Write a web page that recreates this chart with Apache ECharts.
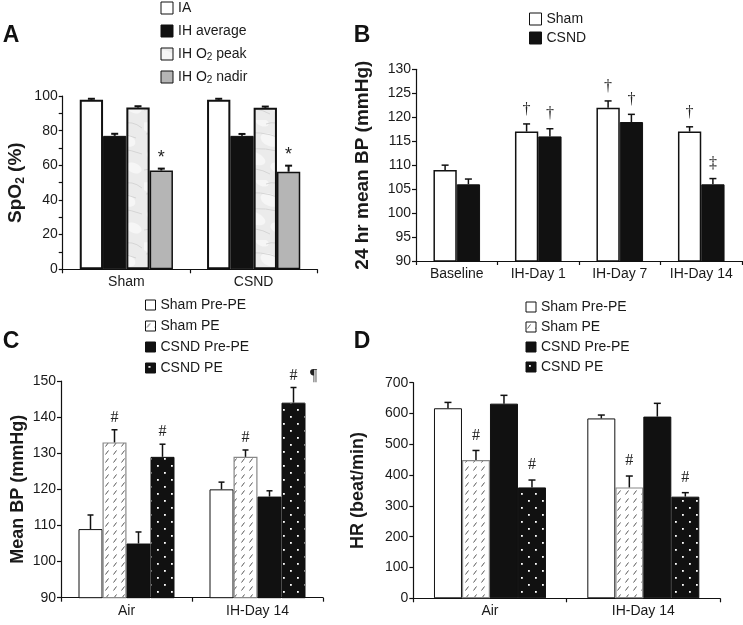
<!DOCTYPE html>
<html><head><meta charset="utf-8">
<script src="https://cdn.jsdelivr.net/npm/echarts@6/dist/echarts.min.js"></script>
<style>html,body{margin:0;padding:0;background:#fff}#c{width:743px;height:625px}</style>
</head><body><div id="c"></div>
<script>
// ---------- DATA ----------
// Panel A
const catsA = ['Sham', 'CSND'];
const namesA = ['IA', 'IH average', 'IH O2 peak', 'IH O2 nadir'];
const aIA = [97.8, 97.8];      const aIAErr = [0.6, 0.6];
const aAvg = [77, 77];         const aAvgErr = [1.2, 1.1];
const aPeak = [93.4, 93.2];    const aPeakErr = [0.7, 0.7];
const aNadir = [57, 56.3];     const aNadirErr = [1.1, 3.5];
const aMarks = [['', ''], ['', ''], ['', ''], ['*', '*']];
const ticksA = [0, 20, 40, 60, 80, 100];

// Panel B
const catsB = ['Baseline', 'IH-Day 1', 'IH-Day 7', 'IH-Day 14'];
const namesB = ['Sham', 'CSND'];
const bSham = [109, 117, 122, 117];   const bShamErr = [1, 1.6, 1.4, 1];
const bCsnd = [106, 116, 119, 106];   const bCsndErr = [1.1, 1.6, 1.6, 1.2];
const bMarks = [['', '†', '†', '†'], ['', '†', '†', '‡']];
const ticksB = [90, 95, 100, 105, 110, 115, 120, 125, 130];

// Panel C
const catsC = ['Air', 'IH-Day 14'];
const namesCD = ['Sham Pre-PE', 'Sham PE', 'CSND Pre-PE', 'CSND PE'];
const cShamPre = [109, 120];  const cShamPreErr = [3.9, 2];
const cShamPE = [133, 129];   const cShamPEErr = [3.5, 1.9];
const cCsndPre = [105, 118];  const cCsndPreErr = [3.2, 1.6];
const cCsndPE = [129, 144];   const cCsndPEErr = [3.5, 4.2];
const cMarks = [['', ''], ['#', '#'], ['', ''], ['#', '# ¶']];
const ticksC = [90, 100, 110, 120, 130, 140, 150];

// Panel D
const catsD = ['Air', 'IH-Day 14'];
const dShamPre = [617, 584];  const dShamPreErr = [19, 11];
const dShamPE = [449, 360];   const dShamPEErr = [31, 37];
const dCsndPre = [632, 590];  const dCsndPreErr = [27, 43];
const dCsndPE = [360, 330];   const dCsndPEErr = [24, 13];
const dMarks = [['', ''], ['#', '#'], ['', ''], ['#', '#']];
const ticksD = [0, 100, 200, 300, 400, 500, 600, 700];

// ---------- PATTERNS ----------
function mk(w, h, draw) { const c = document.createElement('canvas'); c.width = w; c.height = h; draw(c.getContext('2d')); return c; }
const slashPat = { image: mk(8, 8, g => {
  g.fillStyle = '#fff'; g.fillRect(0, 0, 8, 8);
  g.strokeStyle = '#444'; g.lineWidth = 0.9;
  g.beginPath(); g.moveTo(1.5, 6.5); g.lineTo(4.5, 2.5); g.stroke();
}), repeat: 'repeat' };
const dotPat = { image: mk(14, 14, g => {
  g.fillStyle = '#111'; g.fillRect(0, 0, 14, 14);
  g.fillStyle = '#fff'; g.fillRect(3, 3, 1.8, 1.8); g.fillRect(10, 10, 1.8, 1.8);
}), repeat: 'repeat' };
const marblePat = { image: mk(48, 60, g => {
  g.fillStyle = '#ebebeb'; g.fillRect(0, 0, 48, 60);
  g.fillStyle = '#f6f6f6';
  [[6,8,9,5],[30,20,10,6],[14,38,12,6],[38,48,8,5],[22,2,7,4]].forEach(e => { g.beginPath(); g.ellipse(e[0], e[1], e[2], e[3], 0.4, 0, Math.PI*2); g.fill(); });
  g.strokeStyle = '#cfcfcf'; g.lineWidth = 0.8;
  [[2,14,20,10,40,18],[8,30,24,26,46,34],[0,50,16,46,30,54],[26,4,36,0,46,8]].forEach(s => { g.beginPath(); g.moveTo(s[0], s[1]); g.quadraticCurveTo(s[2], s[3], s[4], s[5]); g.stroke(); });
}), repeat: 'repeat' };

// ---------- HELPERS ----------
const FONT = 'Liberation Sans, Arial, sans-serif';
const SERIF = 'Liberation Serif, Times New Roman, serif';
const TXT = '#1a1a1a';

function xAx(gi, cats) {
  return { type: 'category', gridIndex: gi, data: cats,
    axisLine: { lineStyle: { color: '#111', width: 1.2 } },
    axisTick: { show: true, length: 4, lineStyle: { color: '#111', width: 1.2 } },
    axisLabel: { fontSize: 14, color: TXT, fontFamily: FONT, margin: 6, interval: 0 },
    splitLine: { show: false } };
}
function yAx(gi, ticks, name, gap, minor, fs) {
  return { type: 'value', gridIndex: gi, min: ticks[0], max: ticks[ticks.length - 1], interval: ticks[1] - ticks[0],
    name: name, nameLocation: 'middle', nameGap: gap, nameRotate: 90,
    nameTextStyle: { fontSize: fs, fontWeight: 'bold', color: TXT, fontFamily: FONT, lineHeight: 22,
      rich: { sub: { fontSize: 12, fontWeight: 'bold', color: TXT, fontFamily: FONT, verticalAlign: 'bottom', lineHeight: 12 } } },
    axisLine: { show: true, lineStyle: { color: '#111', width: 1.2 } },
    axisTick: { show: true, length: 4, lineStyle: { color: '#111', width: 1.2 } },
    minorTick: { show: !!minor, splitNumber: 2, length: 4, lineStyle: { color: '#111', width: 1.2 } },
    axisLabel: { fontSize: 14, color: TXT, fontFamily: FONT, margin: 5 },
    splitLine: { show: false } };
}
function bar(gi, name, data, style, bw) {
  return { type: 'bar', name: name, xAxisIndex: gi, yAxisIndex: gi, data: data,
    barWidth: bw, barGap: '0%', itemStyle: style, z: 2 };
}
function errSeries(gi, vals, errs, bw, lw, cap) {
  const n = vals.length, data = [];
  vals.forEach((arr, k) => arr.forEach((v, j) => data.push([j, v, errs[k][j], k])));
  return { type: 'custom', name: 'err' + gi, xAxisIndex: gi, yAxisIndex: gi, data: data, z: 5, silent: true,
    renderItem: (p, api) => {
      const j = api.value(0), v = api.value(1), e = api.value(2), k = api.value(3);
      const a = api.coord([j, v]), b = api.coord([j, v + e]);
      const x = a[0] + (k - (n - 1) / 2) * bw;
      const st = { stroke: '#111', lineWidth: lw };
      return { type: 'group', children: [
        { type: 'line', shape: { x1: x, y1: a[1], x2: x, y2: b[1] }, style: st },
        { type: 'line', shape: { x1: x - cap, y1: b[1], x2: x + cap, y2: b[1] }, style: st } ] };
    } };
}
function markSeries(gi, vals, errs, marks, bw, off, font) {
  const n = vals.length, data = [], txt = [];
  vals.forEach((arr, k) => arr.forEach((v, j) => { if (marks[k][j]) { data.push([j, v + errs[k][j], k]); txt.push(marks[k][j]); } }));
  return { type: 'custom', name: 'mark' + gi, xAxisIndex: gi, yAxisIndex: gi, data: data, z: 6, silent: true,
    renderItem: (p, api) => {
      const j = api.value(0), t = api.value(1), k = api.value(2);
      const c = api.coord([j, t]);
      const x = c[0] + (k - (n - 1) / 2) * bw, y = c[1] - off;
      const parts = txt[p.dataIndex].split(' ');
      return { type: 'group', children: parts.map((s, i) => ({ type: 'text', x: x + i * 20, y: y,
        style: { text: s, font: font, fill: '#222', align: 'center', verticalAlign: 'middle' } })) };
    } };
}
function legend(names, left, top, size, gap, textGap) {
  return { data: names, orient: 'vertical', left: left, top: top, padding: 0, itemWidth: size, itemHeight: size, itemGap: gap,
    itemTextGap: textGap, icon: 'rect',
    itemStyle: { borderColor: '#111', borderWidth: 1 },
    formatter: n => n.replace('O2', 'O{sub|2}'),
    textStyle: { fontSize: 14, color: TXT, fontFamily: FONT, lineHeight: 16,
      rich: { sub: { fontSize: 10, color: TXT, fontFamily: FONT, verticalAlign: 'bottom', lineHeight: 10 } } } };
}

const whiteBox = w => ({ color: '#fff', borderColor: '#111', borderWidth: w });
const blk = { color: '#111', borderColor: '#111', borderWidth: 1 };

const bwA = 23.3, bwB = 23.3, bwC = 24, bwD = 28;

const option = {
  animation: false,
  backgroundColor: '#fff',
  textStyle: { fontFamily: FONT },
  graphic: [
    { type: 'text', x: 11, y: 36, style: { text: 'A', font: 'bold 23px ' + FONT, fill: '#111', align: 'center', verticalAlign: 'middle' } },
    { type: 'text', x: 362, y: 36, style: { text: 'B', font: 'bold 23px ' + FONT, fill: '#111', align: 'center', verticalAlign: 'middle' } },
    { type: 'text', x: 11, y: 342, style: { text: 'C', font: 'bold 23px ' + FONT, fill: '#111', align: 'center', verticalAlign: 'middle' } },
    { type: 'text', x: 362, y: 342, style: { text: 'D', font: 'bold 23px ' + FONT, fill: '#111', align: 'center', verticalAlign: 'middle' } }
  ],
  legend: [
    legend(namesA, 160.5, 0, 12, 7, 5),
    legend(namesB, 529, 11, 12, 3, 4),
    legend(namesCD, 145, 297, 10, 5, 7),
    legend(namesCD, 525.5, 299, 10, 4, 7)
  ],
  grid: [
    { left: 62.7, top: 96, width: 254.6, height: 173.3 },
    { left: 416, top: 69.3, width: 326, height: 191.7 },
    { left: 61, top: 381, width: 262, height: 216.7 },
    { left: 413.3, top: 382.7, width: 306.7, height: 215.6 }
  ],
  xAxis: [xAx(0, catsA), xAx(1, catsB), xAx(2, catsC), xAx(3, catsD)],
  yAxis: [
    yAx(0, ticksA, 'SpO{sub|2} (%)', 36, true, 19),
    yAx(1, ticksB, '24 hr mean BP (mmHg)', 42, false, 19),
    yAx(2, ticksC, 'Mean BP (mmHg)', 26, false, 18),
    yAx(3, ticksD, 'HR (beat/min)', 44, false, 18)
  ],
  series: [
    bar(0, namesA[0], aIA, whiteBox(2), bwA),
    bar(0, namesA[1], aAvg, blk, bwA),
    bar(0, namesA[2], aPeak, { color: marblePat, borderColor: '#111', borderWidth: 2 }, bwA),
    bar(0, namesA[3], aNadir, { color: '#b5b5b5', borderColor: '#111', borderWidth: 1.5 }, bwA),
    errSeries(0, [aIA, aAvg, aPeak, aNadir], [aIAErr, aAvgErr, aPeakErr, aNadirErr], bwA, 2, 3.5),
    markSeries(0, [aIA, aAvg, aPeak, aNadir], [aIAErr, aAvgErr, aPeakErr, aNadirErr], aMarks, bwA, 11, '18px ' + FONT),

    bar(1, namesB[0], bSham, whiteBox(1.5), bwB),
    bar(1, namesB[1], bCsnd, blk, bwB),
    errSeries(1, [bSham, bCsnd], [bShamErr, bCsndErr], bwB, 1.5, 3.5),
    markSeries(1, [bSham, bCsnd], [bShamErr, bCsndErr], bMarks, bwB, 14.5, '16px ' + SERIF),

    bar(2, namesCD[0], cShamPre, whiteBox(1), bwC),
    bar(2, namesCD[1], cShamPE, { color: slashPat, borderColor: '#888', borderWidth: 1.2 }, bwC),
    bar(2, namesCD[2], cCsndPre, blk, bwC),
    bar(2, namesCD[3], cCsndPE, { color: dotPat, borderColor: '#111', borderWidth: 1 }, bwC),
    errSeries(2, [cShamPre, cShamPE, cCsndPre, cCsndPE], [cShamPreErr, cShamPEErr, cCsndPreErr, cCsndPEErr], bwC, 1.5, 3),
    markSeries(2, [cShamPre, cShamPE, cCsndPre, cCsndPE], [cShamPreErr, cShamPEErr, cCsndPreErr, cCsndPEErr], cMarks, bwC, 12, '16px ' + SERIF),

    bar(3, namesCD[0], dShamPre, whiteBox(1), bwD),
    bar(3, namesCD[1], dShamPE, { color: slashPat, borderColor: '#888', borderWidth: 1.2 }, bwD),
    bar(3, namesCD[2], dCsndPre, blk, bwD),
    bar(3, namesCD[3], dCsndPE, { color: dotPat, borderColor: '#111', borderWidth: 1 }, bwD),
    errSeries(3, [dShamPre, dShamPE, dCsndPre, dCsndPE], [dShamPreErr, dShamPEErr, dCsndPreErr, dCsndPEErr], bwD, 1.5, 3.5),
    markSeries(3, [dShamPre, dShamPE, dCsndPre, dCsndPE], [dShamPreErr, dShamPEErr, dCsndPreErr, dCsndPEErr], dMarks, bwD, 15, '16px ' + SERIF)
  ]
};
const chart = echarts.init(document.getElementById('c'), null, { renderer: 'canvas' });
chart.setOption(option);
</script></body></html>
